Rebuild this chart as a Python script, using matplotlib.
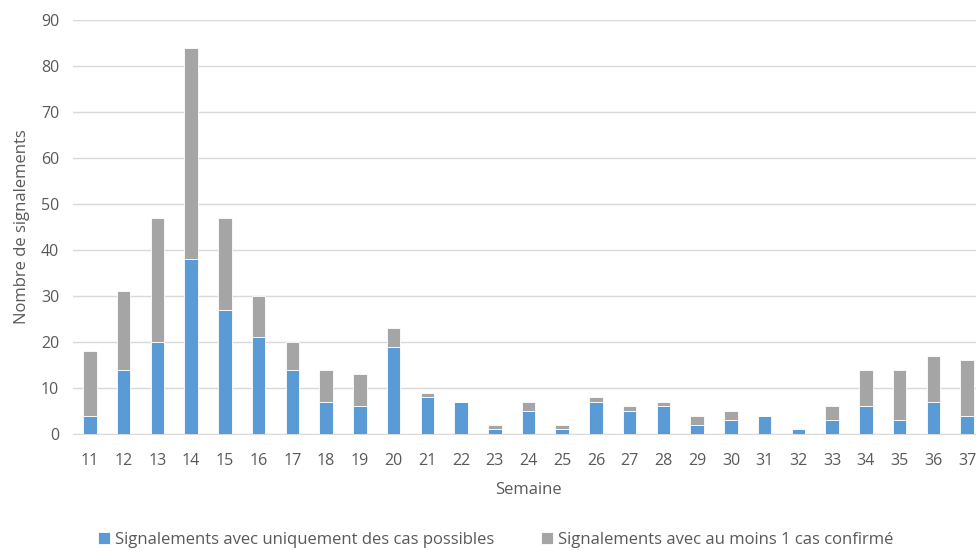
import matplotlib
matplotlib.use('Agg')
import matplotlib.pyplot as plt
import numpy as np

plt.rcParams['font.family'] = ['Open Sans', 'DejaVu Sans']

weeks = [str(w) for w in range(11, 38)]
possible = [4, 14, 20, 38, 27, 21, 14, 7, 6, 19, 8, 7, 1, 5, 1, 7, 5, 6, 2, 3,
            4, 1, 3, 6, 3, 7, 4]
total = [18, 31, 47, 84, 47, 30, 20, 14, 13, 23, 9, 7, 2, 7, 2, 8, 6, 7, 4, 5,
         4, 1, 6, 14, 14, 17, 16]
confirmed = [t - p for t, p in zip(total, possible)]

BLUE = '#5B9BD5'
GREY = '#A5A5A5'
TEXT = '#595959'

fig = plt.figure(figsize=(9.76, 5.51), dpi=100)
# axes extends slightly past the right edge, as in the cropped original
ax = fig.add_axes([73 / 976, 117 / 551, 911 / 976, 414 / 551])

x = np.arange(len(weeks))
ax.bar(x, possible, width=0.4, color=BLUE, edgecolor='white', linewidth=0.6,
       label='Signalements avec uniquement des cas possibles', zorder=3)
ax.bar(x, confirmed, width=0.4, bottom=possible, color=GREY, edgecolor='white',
       linewidth=0.6, label='Signalements avec au moins 1 cas confirmé', zorder=3)

ax.set_xlim(-0.5, len(weeks) - 0.5)
ax.set_ylim(0, 90)
ax.set_yticks(range(0, 91, 10))
ax.set_xticks(x)
ax.set_xticklabels(weeks)
ax.grid(axis='y', color='#D9D9D9', linewidth=1, zorder=0)
for s in ['top', 'right', 'left']:
    ax.spines[s].set_visible(False)
ax.spines['bottom'].set_color('#D9D9D9')
ax.tick_params(axis='both', length=0, colors=TEXT, labelsize=11.5)
ax.tick_params(axis='x', pad=14)
ax.tick_params(axis='y', pad=10)

ax.set_xlabel('Semaine', color=TEXT, fontsize=12, labelpad=9)
ax.set_ylabel('Nombre de signalements', color=TEXT, fontsize=12, labelpad=8)

fig.legend(loc='lower center', bbox_to_anchor=(0.508, -0.022), ncol=2, frameon=False,
           fontsize=12, labelcolor=TEXT, handlelength=0.7, handleheight=0.7,
           handletextpad=0.3, columnspacing=2.8)

fig.savefig('out.png', dpi=100)
